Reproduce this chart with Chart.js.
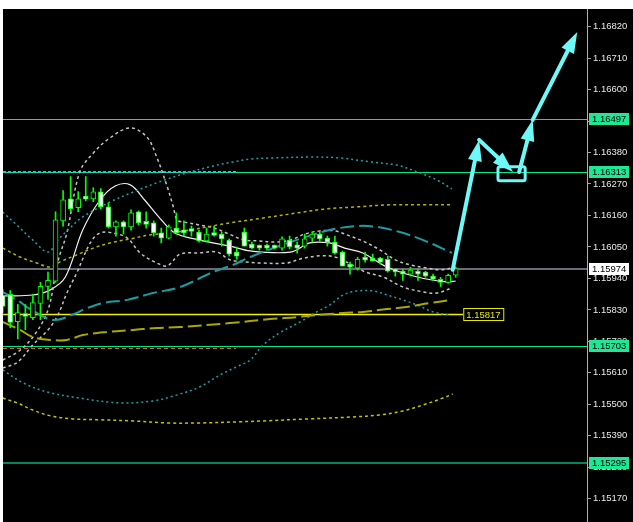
<!DOCTYPE html>
<html><head><meta charset="utf-8">
<script src="https://cdn.jsdelivr.net/npm/chart.js@4.4.0/dist/chart.umd.min.js"></script>
<style>html,body{margin:0;padding:0;background:#fff;overflow:hidden}canvas{display:block}</style>
</head><body>
<canvas id="c" width="633" height="522"></canvas>
<script>
// ---- candle data (bar index 0..60) ----
const opens  = [1.15881,1.15884,1.15789,1.15817,1.15803,1.15853,1.15912,1.15930,1.16141,1.16218,1.16187,1.16220,1.16218,1.16243,1.16190,1.16120,1.16138,1.16120,1.16173,1.16132,1.16134,1.16099,1.16081,1.16116,1.16109,1.16108,1.16102,1.16071,1.16094,1.16095,1.16074,1.16032,1.16102,1.16060,1.16053,1.16053,1.16053,1.16046,1.16074,1.16057,1.16053,1.16081,1.16095,1.16081,1.16067,1.16032,1.15990,1.15976,1.16014,1.16011,1.16011,1.16007,1.15967,1.15965,1.15955,1.15965,1.15962,1.15948,1.15937,1.15926,1.15951];
const highs  = [1.15902,1.15898,1.15849,1.15849,1.15884,1.15926,1.15962,1.16173,1.16247,1.16296,1.16243,1.16296,1.16257,1.16254,1.16204,1.16141,1.16141,1.16180,1.16176,1.16173,1.16141,1.16116,1.16127,1.16169,1.16141,1.16123,1.16109,1.16116,1.16123,1.16102,1.16078,1.16050,1.16116,1.16067,1.16057,1.16060,1.16057,1.16085,1.16088,1.16067,1.16095,1.16102,1.16102,1.16088,1.16088,1.16036,1.15997,1.16014,1.16032,1.16025,1.16014,1.16018,1.15972,1.15972,1.15979,1.15972,1.15965,1.15955,1.15944,1.15955,1.15979];
const lows   = [1.15821,1.15768,1.15729,1.15761,1.15796,1.15796,1.15867,1.15926,1.16123,1.16173,1.16173,1.16211,1.16208,1.16183,1.16116,1.16088,1.16095,1.16109,1.16127,1.16116,1.16088,1.16064,1.16078,1.16095,1.16088,1.16088,1.16067,1.16067,1.16088,1.16053,1.16018,1.16007,1.16053,1.16043,1.16039,1.16039,1.16043,1.16039,1.16043,1.16028,1.16046,1.16067,1.16071,1.16053,1.16025,1.15983,1.15955,1.15969,1.15997,1.16000,1.15990,1.15962,1.15948,1.15933,1.15948,1.15933,1.15944,1.15933,1.15912,1.15923,1.15944];
const closes = [1.15842,1.15786,1.15821,1.15807,1.15856,1.15912,1.15933,1.16145,1.16215,1.16183,1.16218,1.16217,1.16243,1.16190,1.16120,1.16138,1.16120,1.16169,1.16134,1.16129,1.16099,1.16081,1.16120,1.16099,1.16099,1.16104,1.16071,1.16095,1.16090,1.16078,1.16025,1.16018,1.16053,1.16046,1.16046,1.16046,1.16046,1.16078,1.16050,1.16046,1.16078,1.16095,1.16078,1.16067,1.16028,1.15983,1.15979,1.16007,1.16004,1.16000,1.15997,1.15965,1.15963,1.15955,1.15969,1.15955,1.15948,1.15937,1.15926,1.15951,1.15974];

// ---- price axis ticks ----
const tickValues = [1.15170,1.15280,1.15390,1.15500,1.15610,1.15720,1.15830,1.15940,1.16050,1.16160,1.16270,1.16380,1.16490,1.16600,1.16710,1.16820];

// ---- short bands (grey dashed) and middle (white) ----
const bandUpX = [0.0,2.0,4.0,6.0,7.3,8.5,10.2,12.0,14.2,16.9,19.1,20.4,21.8,22.6,23.1,24.0,26.0,28.0,30.0,32.0,34.0,35.9,38.1,40.0,42.0,44.0,46.0,48.0,50.0,52.0,54.0,56.0,58.1,60.0];
const bandUpY = [1.15655,1.15683,1.15735,1.15830,1.15998,1.16099,1.16312,1.16378,1.16431,1.16466,1.16434,1.16364,1.16260,1.16190,1.16144,1.16137,1.16127,1.16116,1.16095,1.16074,1.16071,1.16067,1.16074,1.16095,1.16106,1.16106,1.16088,1.16067,1.16039,1.16005,1.15987,1.15977,1.15970,1.15980];
const bandLoX = [0.0,2.0,4.0,6.0,7.3,8.5,9.8,11.6,12.9,14.6,16.5,18.2,20.4,21.8,23.5,26.0,28.4,30.1,32.0,34.0,37.7,39.4,42.0,44.0,46.0,48.0,50.4,53.0,55.7,57.5,59.5];
const bandLoY = [1.15627,1.15648,1.15708,1.15760,1.15812,1.15889,1.15959,1.16064,1.16099,1.16099,1.16081,1.16029,1.15994,1.15984,1.16025,1.16029,1.16032,1.16005,1.15998,1.15994,1.15994,1.16008,1.16019,1.16015,1.15991,1.15963,1.15945,1.15910,1.15893,1.15889,1.15907];
const midX = [0.0,4.0,6.3,8.3,10.6,12.9,14.9,16.9,18.8,20.8,22.8,26.1,30.1,32.8,38.1,40.7,43.3,45.3,47.7,50.9,54.9,58.8,60.0];
const midY = [1.15879,1.15882,1.15900,1.15945,1.16109,1.16214,1.16263,1.16267,1.16214,1.16151,1.16099,1.16074,1.16053,1.16036,1.16032,1.16064,1.16064,1.16046,1.16029,1.15980,1.15945,1.15928,1.15931];

// ---- teal bands ----
const tealUpX = [0.0,2.0,4.0,6.0,7.3,8.9,10.6,14.2,17.3,20.4,24.4,27.9,30.5,32.8,35.8,41.1,44.7,48.7,52.2,54.9,57.5,59.5];
const tealUpY = [1.16172,1.16123,1.16074,1.16032,1.16074,1.16116,1.16155,1.16207,1.16242,1.16274,1.16309,1.16333,1.16347,1.16357,1.16361,1.16364,1.16361,1.16347,1.16336,1.16312,1.16284,1.16253];
const tealMidX = [0.0,2.3,3.2,6.7,9.8,10.6,13.3,16.5,19.9,23.5,27.9,30.5,32.8,38.1,43.3,46.9,49.6,52.6,55.7,59.5];
const tealMidY = [1.15893,1.15858,1.15840,1.15795,1.15819,1.15830,1.15854,1.15865,1.15889,1.15910,1.15963,1.15987,1.16015,1.16067,1.16109,1.16123,1.16120,1.16102,1.16074,1.16029];
const tealLoX = [0.0,2.7,5.9,10.2,15.5,19.9,23.1,26.1,28.8,31.2,32.8,34.5,36.7,39.4,41.6,43.3,45.1,46.9,49.1,50.9,53.0,54.9,57.0,59.2];
const tealLoY = [1.15620,1.15575,1.15543,1.15522,1.15505,1.15512,1.15533,1.15561,1.15603,1.15634,1.15655,1.15708,1.15750,1.15788,1.15823,1.15847,1.15882,1.15896,1.15896,1.15882,1.15865,1.15847,1.15823,1.15812];

// ---- yellow bands ----
const yelUpX = [0.0,2.3,4.5,6.3,7.6,9.8,12.0,14.2,16.9,19.5,23.1,30.1,34.5,39.0,42.9,46.9,51.3,55.7,59.6];
const yelUpY = [1.16046,1.16015,1.15994,1.15980,1.15998,1.16022,1.16046,1.16064,1.16078,1.16092,1.16102,1.16134,1.16151,1.16169,1.16183,1.16190,1.16197,1.16197,1.16197];
const yelMidX = [0.0,2.3,4.0,6.3,8.5,10.6,13.8,17.3,20.4,23.5,30.1,35.4,39.0,41.6,45.1,47.7,50.9,53.5,56.6,59.5];
const yelMidY = [1.15788,1.15760,1.15735,1.15725,1.15725,1.15742,1.15753,1.15760,1.15767,1.15770,1.15784,1.15798,1.15805,1.15812,1.15819,1.15823,1.15833,1.15840,1.15854,1.15865];
const yelLoX = [0.0,1.9,4.0,6.3,9.3,12.9,17.3,21.8,26.1,31.2,34.5,40.3,46.4,50.0,53.0,55.7,58.3,59.6];
const yelLoY = [1.15522,1.15505,1.15480,1.15460,1.15449,1.15446,1.15442,1.15435,1.15435,1.15439,1.15442,1.15449,1.15456,1.15463,1.15477,1.15498,1.15522,1.15536];

// ---- horizontal levels ----
const greenLevels = [1.16497,1.16313,1.15703];
const darkGreenLevel = 1.15295;
const currentPrice = 1.15974;
const yellowLevel = 1.15817;
const prevDayHigh = 1.16313, prevDayLow = 1.15697, prevDayEnd = 30.9;
const yellowLineEnd = 61.0;

// ---- drawn arrows (bar index, price) ----
const arrowFromX = [59.6,63.1,68.4,70.2];
const arrowFromY = [1.15970,1.16424,1.16312,1.16494];
const arrowToX   = [63.1,67.6,70.2,76.1];
const arrowToY   = [1.16424,1.16312,1.16494,1.16801];
const boxX = [65.6,69.2];
const boxY = [1.16281,1.16330];

const idx = opens.map((_, i) => i);
const pts = (xs, ys) => xs.map((x, i) => ({x, y: ys[i]}));
const lineDs = (xs, ys, color, width, dash) => ({
  type: 'line', data: pts(xs, ys), borderColor: color, borderWidth: width,
  borderDash: dash, pointRadius: 0, tension: 0.35, fill: false, order: 10
});

const FAMILY = '"Liberation Sans", Arial, sans-serif';
const FONT = '9.5px ' + FAMILY;

const bgPlugin = {
  id: 'bg',
  beforeDraw(chart) {
    const c = chart.ctx;
    c.save();
    c.fillStyle = '#ffffff'; c.fillRect(0, 0, chart.width, chart.height);
    c.fillStyle = '#000000'; c.fillRect(3, 9, chart.width - 3, chart.height - 9);
    c.restore();
  }
};

const levelsPlugin = {
  id: 'levels',
  beforeDatasetsDraw(chart) {
    const {ctx: c, chartArea: a, scales: {x, y}} = chart;
    c.save();
    c.beginPath(); c.rect(a.left, a.top, a.right - a.left, a.bottom - a.top); c.clip();
    const hline = (v, color, w, dash, x0, x1) => {
      const py = Math.round(y.getPixelForValue(v)) + (w % 2 ? 0.5 : 0);
      c.strokeStyle = color; c.lineWidth = w; c.setLineDash(dash || []);
      c.beginPath(); c.moveTo(x0, py); c.lineTo(x1, py); c.stroke();
    };
    greenLevels.forEach(v => hline(v, '#00e88c', 1, null, a.left, a.right));
    hline(darkGreenLevel, '#00875e', 2, null, a.left, a.right);
    hline(currentPrice, '#6c6c74', 2, null, a.left, a.right);
    hline(prevDayHigh, '#22c8d8', 2, [3, 2], a.left, x.getPixelForValue(prevDayEnd));
    hline(prevDayLow, '#d2691e', 1, [4, 3], a.left, x.getPixelForValue(prevDayEnd));
    hline(yellowLevel, '#f0f000', 1.5, null, a.left, x.getPixelForValue(yellowLineEnd));
    c.restore();
  }
};

function arrow(c, x1, y1, x2, y2) {
  const ang = Math.atan2(y2 - y1, x2 - x1);
  const hl = 21, hw = 7;
  const bx = x2 - hl * Math.cos(ang), by = y2 - hl * Math.sin(ang);
  c.beginPath(); c.moveTo(x1, y1); c.lineTo(bx, by); c.stroke();
  c.beginPath(); c.moveTo(x2, y2);
  c.lineTo(bx + hw * Math.sin(ang), by - hw * Math.cos(ang));
  c.lineTo(bx - hw * Math.sin(ang), by + hw * Math.cos(ang));
  c.closePath(); c.fill();
}

const overlayPlugin = {
  id: 'overlay',
  afterDatasetsDraw(chart) {
    const {ctx: c, scales: {x, y}} = chart;
    c.save();
    c.strokeStyle = '#6ff8f8'; c.fillStyle = '#6ff8f8'; c.lineWidth = 4; c.lineCap = 'round'; c.lineJoin = 'round';
    arrowFromX.forEach((fx, i) => arrow(c, x.getPixelForValue(fx), y.getPixelForValue(arrowFromY[i]),
      x.getPixelForValue(arrowToX[i]), y.getPixelForValue(arrowToY[i])));
    const rx0 = x.getPixelForValue(boxX[0]), rx1 = x.getPixelForValue(boxX[1]);
    const ry0 = y.getPixelForValue(boxY[1]), ry1 = y.getPixelForValue(boxY[0]);
    c.lineWidth = 3;
    c.beginPath(); c.roundRect(rx0, ry0, rx1 - rx0, ry1 - ry0, 2); c.stroke();
    c.restore();
  },
  afterDraw(chart) {
    const {ctx: c, chartArea: a, scales: {x, y}} = chart;
    c.save();
    c.font = FONT; c.textBaseline = 'middle'; c.textAlign = 'left';
    const tag = (v, bg, fg) => {
      const py = Math.round(y.getPixelForValue(v));
      c.fillStyle = bg; c.fillRect(a.right + 2, py - 6, 40, 12);
      c.fillStyle = fg; c.fillText(v.toFixed(5), a.right + 5, py + 0.5);
    };
    greenLevels.forEach(v => tag(v, '#1ee896', '#000'));
    tag(darkGreenLevel, '#1ee896', '#000');
    tag(currentPrice, '#ffffff', '#000');
    // yellow in-chart tag
    const px = x.getPixelForValue(yellowLineEnd), py = Math.round(y.getPixelForValue(yellowLevel));
    c.fillStyle = '#000'; c.fillRect(px, py - 6, 41, 13);
    c.strokeStyle = '#e8e800'; c.lineWidth = 1; c.strokeRect(px + 0.5, py - 5.5, 40, 12);
    c.fillStyle = '#e8e800'; c.fillText(yellowLevel.toFixed(5), px + 3, py + 1);
    c.restore();
  }
};

new Chart(document.getElementById('c'), {
  type: 'bar',
  data: {
    datasets: [
      { type: 'bar', data: idx.map(i => ({x: i, y: [lows[i], highs[i]]})), backgroundColor: '#00ff00',
        borderWidth: 0, barThickness: 1, grouped: false, order: 2 },
      { type: 'bar', data: idx.map(i => ({x: i, y: [opens[i], closes[i]]})),
        backgroundColor: idx.map(i => closes[i] > opens[i] ? '#000000' : '#ffffff'),
        borderColor: '#00ff00', borderWidth: 1, borderSkipped: false, barThickness: 5, minBarLength: 3,
        grouped: false, order: 1 },
      lineDs(yelLoX, yelLoY, '#c4c400', 1.5, [3, 3]),
      lineDs(yelMidX, yelMidY, '#a8a800', 2, [14, 5]),
      lineDs(yelUpX, yelUpY, '#b4b400', 1.5, [3, 3]),
      lineDs(tealLoX, tealLoY, '#1aa2a8', 1.5, [2, 3]),
      lineDs(tealMidX, tealMidY, '#1a9ca2', 2, [14, 5]),
      lineDs(tealUpX, tealUpY, '#1aa2a8', 1.5, [2, 3]),
      lineDs(bandLoX, bandLoY, '#c4c4c4', 1.5, [3, 3]),
      lineDs(bandUpX, bandUpY, '#c4c4c4', 1.5, [3, 3]),
      lineDs(midX, midY, '#f2f2f2', 1.2, [])
    ]
  },
  options: {
    responsive: false, animation: false, devicePixelRatio: 1,
    layout: { padding: { left: 3, top: 9, right: 0, bottom: 0 } },
    plugins: { legend: { display: false }, tooltip: { enabled: false } },
    scales: {
      x: { type: 'linear', display: false, min: 0.04, max: 77.39, offset: false },
      y: {
        type: 'linear', position: 'right', min: 1.150889, max: 1.168814,
        afterBuildTicks: s => { s.ticks = tickValues.map(v => ({value: v})); },
        afterFit: s => { s.width = 46; s.paddingTop = 0; s.paddingBottom = 0; },
        ticks: { color: '#e8e8e8', font: { family: FAMILY, size: 9.5 },
                 padding: 2, autoSkip: false, callback: v => Number(v).toFixed(5) },
        grid: { drawOnChartArea: false, drawTicks: true, tickLength: 4, color: '#a0a0a0' },
        border: { display: true, color: '#b0b0b0', width: 1 }
      }
    }
  },
  plugins: [bgPlugin, levelsPlugin, overlayPlugin]
});
</script>
</body></html>
